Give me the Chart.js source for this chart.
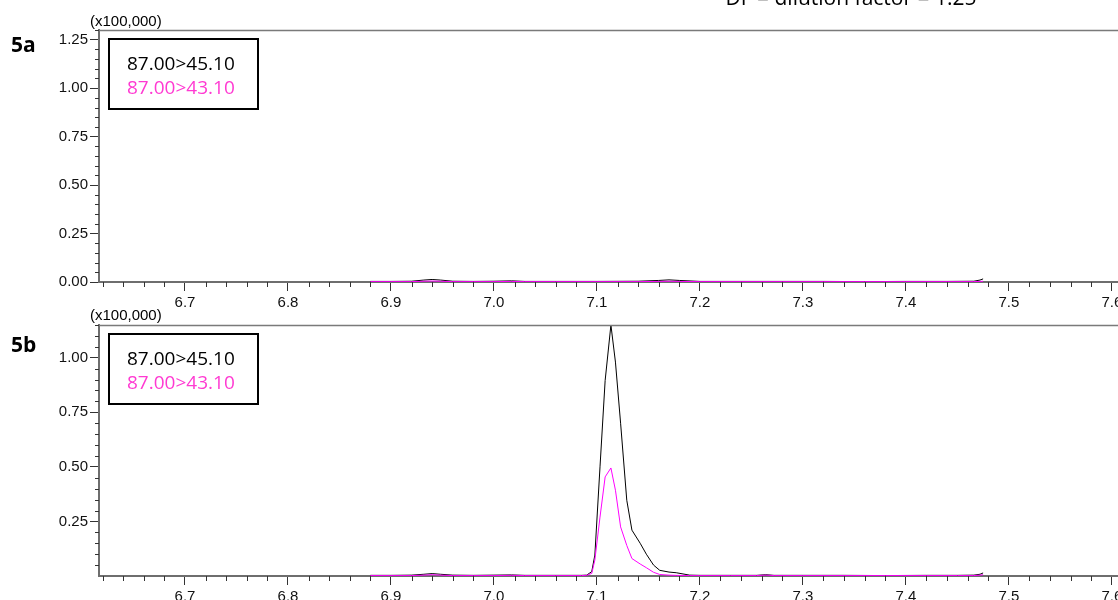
<!DOCTYPE html>
<html>
<head>
<meta charset="utf-8">
<script src="https://cdn.jsdelivr.net/npm/chart.js@4.4.0/dist/chart.umd.min.js"></script>
<style>
html, body { margin: 0; padding: 0; background: #fff; overflow: hidden; }
#wrap { position: relative; width: 1118px; height: 600px; }
canvas { position: absolute; left: 0; }
#c5a { top: 0; }
#c5b { top: 300px; }
</style>
</head>
<body>
<div id="wrap">
    <canvas id="c5a" width="1118" height="320"></canvas>
    <canvas id="c5b" width="1118" height="300"></canvas>
</div>
<script>
const rotulos = ['87.00>45.10', '87.00>43.10'];
const tempos5a = [6.880, 6.900, 6.920, 6.932, 6.940, 6.948, 6.960, 6.980, 7.000, 7.017, 7.030, 7.060,
    7.100, 7.140, 7.160, 7.170, 7.180, 7.200, 7.240, 7.280, 7.320, 7.360, 7.400, 7.440, 7.466, 7.472, 7.475];
const serie5a_45 = [0.003, 0.003, 0.004, 0.010, 0.013, 0.010, 0.004, 0.003, 0.004, 0.006, 0.003, 0.003,
    0.003, 0.004, 0.008, 0.011, 0.008, 0.003, 0.003, 0.003, 0.003, 0.002, 0.003, 0.003, 0.004, 0.010, 0.016];
const serie5a_43 = [0.002, 0.002, 0.002, 0.004, 0.005, 0.004, 0.002, 0.002, 0.002, 0.003, 0.002, 0.002,
    0.002, 0.002, 0.003, 0.004, 0.003, 0.002, 0.002, 0.002, 0.002, 0.002, 0.002, 0.002, 0.002, 0.003, 0.004];

const tempos5b = [6.880, 6.900, 6.920, 6.932, 6.940, 6.948, 6.960, 6.980, 7.000, 7.017, 7.030, 7.060,
    7.085, 7.090, 7.095, 7.098, 7.103, 7.108, 7.1136, 7.118, 7.123, 7.129, 7.134, 7.142, 7.148, 7.155,
    7.161, 7.170, 7.177, 7.190, 7.200, 7.230, 7.255, 7.264, 7.272, 7.300, 7.340, 7.380, 7.420, 7.450,
    7.466, 7.472, 7.475];
const serie5b_45 = [0.003, 0.003, 0.004, 0.008, 0.011, 0.008, 0.004, 0.003, 0.004, 0.005, 0.003, 0.003,
    0.003, 0.004, 0.020, 0.096, 0.500, 0.896, 1.150, 0.980, 0.700, 0.347, 0.210, 0.150, 0.100, 0.050,
    0.026, 0.018, 0.015, 0.004, 0.003, 0.003, 0.003, 0.006, 0.003, 0.003, 0.003, 0.002, 0.003, 0.003,
    0.004, 0.008, 0.014];
const serie5b_43 = [0.002, 0.002, 0.002, 0.004, 0.006, 0.004, 0.002, 0.002, 0.002, 0.003, 0.002, 0.002,
    0.002, 0.003, 0.012, 0.073, 0.270, 0.454, 0.495, 0.393, 0.225, 0.140, 0.080, 0.055, 0.038, 0.017,
    0.007, 0.004, 0.003, 0.002, 0.002, 0.002, 0.002, 0.004, 0.002, 0.002, 0.002, 0.002, 0.002, 0.002,
    0.002, 0.004, 0.006];

const X_MIN = 6.6165;
const X_MAX = 7.606;
const COR_45 = '#000000';
const COR_43 = '#ff00ff';
const COR_TXT_43 = '#ff3ad2';
const FONTE_EIXO = '"Liberation Sans", Arial, sans-serif';
const FONTE_TXT = '"Open Sans", "Noto Sans", sans-serif';

function pares(t, v) {
    return t.map((x, i) => ({ x: x, y: v[i] }));
}

// desenha os ticks menores, a linha de cima e os textos
function plugDecor(cfg) {
    return {
        id: 'decor',
        afterDraw(chart) {
            const c = chart.ctx;
            const a = chart.chartArea;
            const sx = chart.scales.x;
            const sy = chart.scales.y;
            c.save();
            // linha do topo
            c.strokeStyle = '#7a7a7a';
            c.lineWidth = 1.5;
            c.beginPath();
            c.moveTo(a.left, a.top + 0.5);
            c.lineTo(chart.width, a.top + 0.5);
            c.stroke();

            c.strokeStyle = '#333';
            c.lineWidth = 1;
            c.beginPath();
            for (let k = Math.ceil(sx.min * 50); k <= Math.floor(sx.max * 50); k++) {
                if (k % 5 === 0) continue;
                const px = Math.round(sx.getPixelForValue(k / 50)) + 0.5;
                c.moveTo(px, a.bottom);
                c.lineTo(px, a.bottom + 5);
            }
            for (let k = 1; k <= Math.floor(sy.max * 20); k++) {
                if (k % 5 === 0) continue;
                const py = Math.round(sy.getPixelForValue(k / 20)) + 0.5;
                c.moveTo(a.left - 4, py);
                c.lineTo(a.left, py);
            }
            c.stroke();

            // textos
            c.fillStyle = '#000';
            c.textBaseline = 'alphabetic';
            c.font = '15px ' + FONTE_EIXO;
            c.textAlign = 'left';
            c.fillText('(x100,000)', 90, cfg.multY);

            c.font = 'bold 21px ' + FONTE_TXT;
            c.fillText(cfg.painel, 11, cfg.painelY);

            if (cfg.df) {
                c.font = '21px ' + FONTE_TXT;
                c.textAlign = 'center';
                c.fillText(cfg.df, 851, 5);
                c.textAlign = 'left';
            }

            // caixa da legenda
            c.strokeStyle = '#000';
            c.lineWidth = 2;
            c.strokeRect(109, cfg.caixaY, 149, 70);
            c.font = '19px ' + FONTE_TXT;
            c.fillStyle = COR_45;
            c.fillText(rotulos[0], 127, cfg.caixaY + 31);
            c.fillStyle = COR_TXT_43;
            c.fillText(rotulos[1], 127, cfg.caixaY + 55);
            c.restore();
        }
    };
}

function criarGraf(id, tempos, s45, s43, yMax, topo, baixo, cfg) {
    const canvas = document.getElementById(id);
    return new Chart(canvas.getContext('2d'), {
        type: 'scatter',
        data: {
            datasets: [
                { label: rotulos[1], data: pares(tempos, s43), borderColor: COR_43 },
                { label: rotulos[0], data: pares(tempos, s45), borderColor: COR_45 }
            ]
        },
        options: {
            responsive: false,
            animation: false,
            devicePixelRatio: 1,
            showLine: true,
            layout: { padding: { left: 0, right: 0, top: topo, bottom: 0 } },
            elements: {
                point: { radius: 0 },
                line: { borderWidth: 1, tension: 0 }
            },
            plugins: { legend: { display: false }, tooltip: { enabled: false } },
            scales: {
                x: {
                    type: 'linear',
                    min: X_MIN,
                    max: X_MAX,
                    afterFit: (s) => { s.height = baixo; s.paddingLeft = 0; s.paddingRight = 0; },
                    ticks: {
                        stepSize: 0.1,
                        includeBounds: false,
                        autoSkip: false,
                        maxRotation: 0,
                        padding: 3,
                        color: '#111',
                        font: { family: FONTE_EIXO, size: 15 },
                        callback: (v) => Number(v).toFixed(1)
                    },
                    grid: { drawOnChartArea: false, drawTicks: true, tickLength: 9, tickColor: '#333' },
                    border: { color: '#6e6e6e', width: 2 }
                },
                y: {
                    type: 'linear',
                    min: 0,
                    max: yMax,
                    afterFit: (s) => { s.width = 99; s.paddingTop = 0; s.paddingBottom = 0; },
                    afterBuildTicks: (s) => {
                        if (!cfg.zero) s.ticks = s.ticks.filter(t => t.value > 0);
                    },
                    ticks: {
                        stepSize: 0.25,
                        includeBounds: false,
                        padding: 2,
                        color: '#111',
                        font: { family: FONTE_EIXO, size: 15 },
                        callback: (v) => Number(v).toFixed(2)
                    },
                    grid: { drawOnChartArea: false, drawTicks: true, tickLength: 9, tickColor: '#333' },
                    border: { color: '#6e6e6e', width: 2 }
                }
            }
        },
        plugins: [plugDecor(cfg)]
    });
}

criarGraf('c5a', tempos5a, serie5a_45, serie5a_43, 1.30, 30, 38,
    { painel: '5a', painelY: 52, multY: 26, caixaY: 39, zero: true, df: 'DF = dilution factor = 1.25' });
criarGraf('c5b', tempos5b, serie5b_45, serie5b_43, 1.15, 25, 24,
    { painel: '5b', painelY: 52, multY: 20, caixaY: 34, zero: false });
</script>
</body>
</html>
